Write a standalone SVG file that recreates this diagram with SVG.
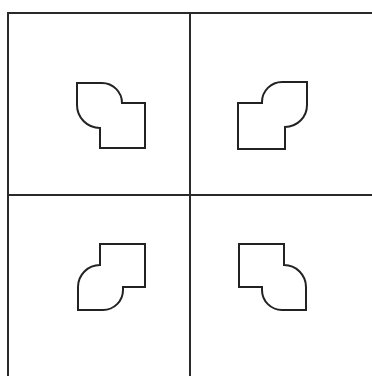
<svg xmlns="http://www.w3.org/2000/svg" width="372" height="376" viewBox="0 0 372 376">
<style>
.grid{stroke:#2a2a2a;stroke-width:2;fill:none}
.piece{stroke:#222;stroke-width:2;fill:#fff;stroke-linejoin:miter}
</style>
<rect width="372" height="376" fill="#fff"/>
<g id="grid">
<path class="grid" d="M8,376 V13 H372 M190,13 V376 M8,195 H372"/>
</g>
<g id="piece-tl"><path class="piece" d="M77,83 H102 A20,20 0 0 1 122,103 H145 V148 H100 V128 A23,23 0 0 1 77,105 Z"/></g>
<g id="piece-tr"><path class="piece" d="M307,82 H282 A20,20 0 0 0 262,102 V103 H238 V149 H285 V127 A22,22 0 0 0 307,105 Z"/></g>
<g id="piece-bl"><path class="piece" d="M100,244 H145 V287 H123 V290 A20,20 0 0 1 103,310 H78 V287 A22,22 0 0 1 100,265 Z"/></g>
<g id="piece-br"><path class="piece" d="M239,244 H284 V265 A22,22 0 0 1 306,287 V310 H282 A20,20 0 0 1 262,290 V287 H239 Z"/></g>
</svg>
